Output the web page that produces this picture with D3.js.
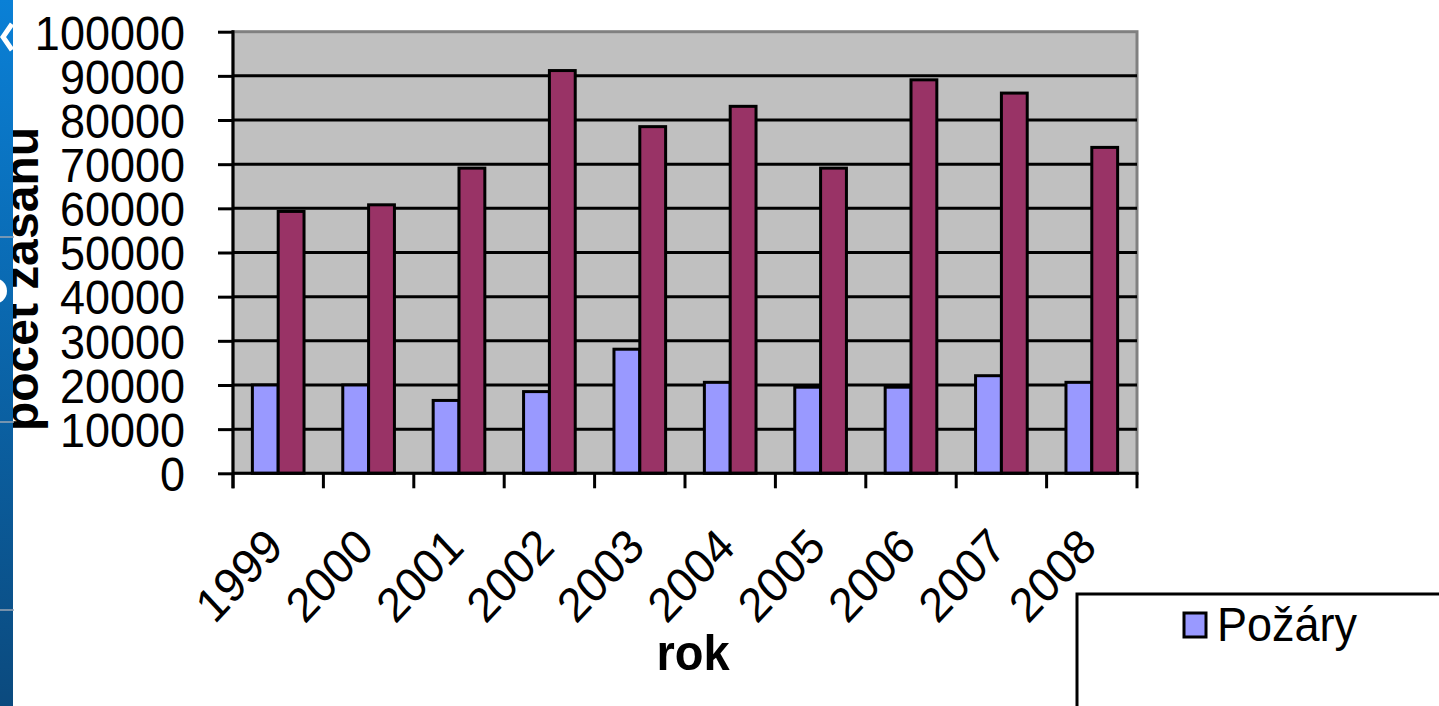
<!DOCTYPE html>
<html>
<head>
<meta charset="utf-8">
<script src="https://cdn.jsdelivr.net/npm/d3@7/dist/d3.min.js"></script>
<style>
  html, body { margin: 0; padding: 0; background: #ffffff; overflow: hidden; }
  svg { display: block; }
  text { font-family: "Liberation Sans", Arial, sans-serif; fill: #000; }
</style>
</head>
<body>
<script>
// ---- data ----
const years = ["1999", "2000", "2001", "2002", "2003", "2004", "2005", "2006", "2007", "2008"];
const seriesNames = ["Požáry", "Ostatní zásahy"];
const pozary = [20000, 20000, 16500, 18500, 28100, 20600, 19500, 19500, 22100, 20600];
const ostatni = [59300, 60800, 69100, 91200, 78500, 83100, 69100, 89100, 86100, 73800];
const yTicks = [0, 10000, 20000, 30000, 40000, 50000, 60000, 70000, 80000, 90000, 100000];
const legendItems = ["Požáry"];
const yTitle = "počet zásahů";
const xTitle = "rok";

const colors = { "Požáry": "#9999FF", "Ostatní zásahy": "#993366" };

const W = 1439, H = 706;
const plot = { left: 233, right: 1137, top: 31.7, bottom: 473.3 };
const SY = 1.07; // vertical stretch of text

const svg = d3.select("body").append("svg").attr("width", W).attr("height", H);

const x0 = d3.scaleBand().domain(years).range([plot.left, plot.right]).padding(0);
const bw = x0.bandwidth();
const barW = bw / 3.5;
const x1 = d3.scaleBand().domain(seriesNames).range([barW * 0.75, barW * 2.75]).padding(0);
const y = d3.scaleLinear().domain([0, 100000]).range([plot.bottom, plot.top]);

// plot background
svg.append("rect")
  .attr("x", plot.left).attr("y", plot.top)
  .attr("width", plot.right - plot.left).attr("height", plot.bottom - plot.top)
  .attr("fill", "#C0C0C0").attr("stroke", "#808080").attr("stroke-width", 3);

// gridlines
svg.append("g").selectAll("line").data(yTicks.filter(d => d > 0 && d < 100000)).join("line")
  .attr("x1", plot.left).attr("x2", plot.right)
  .attr("y1", d => y(d)).attr("y2", d => y(d))
  .attr("stroke", "#000").attr("stroke-width", 3);

// bars
const data = years.map((yr, i) => ({ year: yr, values: [
  { name: seriesNames[0], v: pozary[i] },
  { name: seriesNames[1], v: ostatni[i] }
]}));
svg.append("g").selectAll("g").data(data).join("g")
  .attr("transform", d => `translate(${x0(d.year)},0)`)
  .selectAll("rect").data(d => d.values).join("rect")
  .attr("x", d => x1(d.name)).attr("width", x1.bandwidth())
  .attr("y", d => y(d.v)).attr("height", d => y(0) - y(d.v))
  .attr("fill", d => colors[d.name])
  .attr("stroke", "#000").attr("stroke-width", 3);

// Y axis
const yAxis = d3.axisLeft(y).tickValues(yTicks).tickSize(15).tickFormat(d3.format("d"));
const gy = svg.append("g").attr("transform", `translate(${plot.left},0)`).call(yAxis);
gy.select(".domain").remove();
gy.selectAll(".tick line").attr("stroke", "#000").attr("stroke-width", 3);
gy.selectAll(".tick text").remove();
gy.selectAll(".tick").append("text")
  .attr("transform", `translate(-48,0) scale(1,${SY})`)
  .attr("text-anchor", "end").attr("dy", "0.36em")
  .style("font-size", "45px").text(d => d3.format("d")(d));
svg.append("line")
  .attr("x1", plot.left).attr("x2", plot.left)
  .attr("y1", plot.top - 1.5).attr("y2", plot.bottom + 15)
  .attr("stroke", "#000").attr("stroke-width", 3);

// X axis
svg.append("line")
  .attr("x1", plot.left).attr("x2", plot.right + 1.5)
  .attr("y1", plot.bottom).attr("y2", plot.bottom)
  .attr("stroke", "#000").attr("stroke-width", 3);
const xAxis = d3.axisBottom(x0).tickSize(0).tickFormat(d => d);
const gx = svg.append("g").attr("transform", `translate(0,${plot.bottom})`).call(xAxis);
gx.select(".domain").remove();
gx.selectAll(".tick line").remove();
gx.selectAll(".tick text").remove();
// tick marks at category boundaries
const bounds = years.map(d => x0(d)).concat([x0(years[years.length - 1]) + bw]);
svg.append("g").selectAll("line").data(bounds).join("line")
  .attr("x1", d => d).attr("x2", d => d)
  .attr("y1", plot.bottom).attr("y2", plot.bottom + 15)
  .attr("stroke", "#000").attr("stroke-width", 3);
gx.selectAll(".tick").append("text")
  .attr("transform", `translate(7,76) scale(1,${SY}) rotate(-45)`)
  .attr("text-anchor", "end")
  .style("font-size", "45px").text(d => d);

// axis titles (y title is partly covered by the slide strip, as in the reference)
svg.append("text")
  .attr("transform", `translate(38,279) rotate(-90)`)
  .attr("text-anchor", "middle")
  .style("font-size", "48px").style("font-weight", "bold")
  .text(yTitle);
svg.append("text")
  .attr("transform", `translate(693,670) scale(1,1.06)`)
  .attr("text-anchor", "middle")
  .style("font-size", "47px").style("font-weight", "bold")
  .text(xTitle);

// legend
const lg = svg.append("g");
lg.append("rect").attr("x", 1077).attr("y", 594).attr("width", 420).attr("height", 200)
  .attr("fill", "#fff").attr("stroke", "#000").attr("stroke-width", 3);
const li = lg.selectAll("g.item").data(legendItems).join("g").attr("class", "item")
  .attr("transform", (d, i) => `translate(1184,${613 + i * 50})`);
li.append("rect").attr("x", 0).attr("y", 0).attr("width", 22).attr("height", 24)
  .attr("fill", d => colors[d]).attr("stroke", "#000").attr("stroke-width", 3);
li.append("text")
  .attr("transform", `translate(33,28) scale(1,${SY})`)
  .style("font-size", "45px").text(d => d);

// slide background strip on the left edge (covers part of the y title)
const defs = svg.append("defs");
const grad = defs.append("linearGradient").attr("id", "strip").attr("x1", 0).attr("y1", 0).attr("x2", 0).attr("y2", 1);
grad.append("stop").attr("offset", "0%").attr("stop-color", "#0a80d6");
grad.append("stop").attr("offset", "100%").attr("stop-color", "#0b4a7e");
const strip = svg.append("g");
strip.append("rect").attr("x", 0).attr("y", 0).attr("width", 13).attr("height", H).attr("fill", "url(#strip)");
strip.append("path").attr("d", "M12,24 L3,37 L12,50").attr("fill", "none").attr("stroke", "#fff").attr("stroke-width", 5);
strip.append("circle").attr("cx", -6).attr("cy", 291).attr("r", 13).attr("fill", "#fff");
[237, 422, 610].forEach(yy => {
  strip.append("line").attr("x1", 0).attr("x2", 14).attr("y1", yy).attr("y2", yy)
    .attr("stroke", "#9aa6b4").attr("stroke-width", 1.5);
});
</script>
</body>
</html>
